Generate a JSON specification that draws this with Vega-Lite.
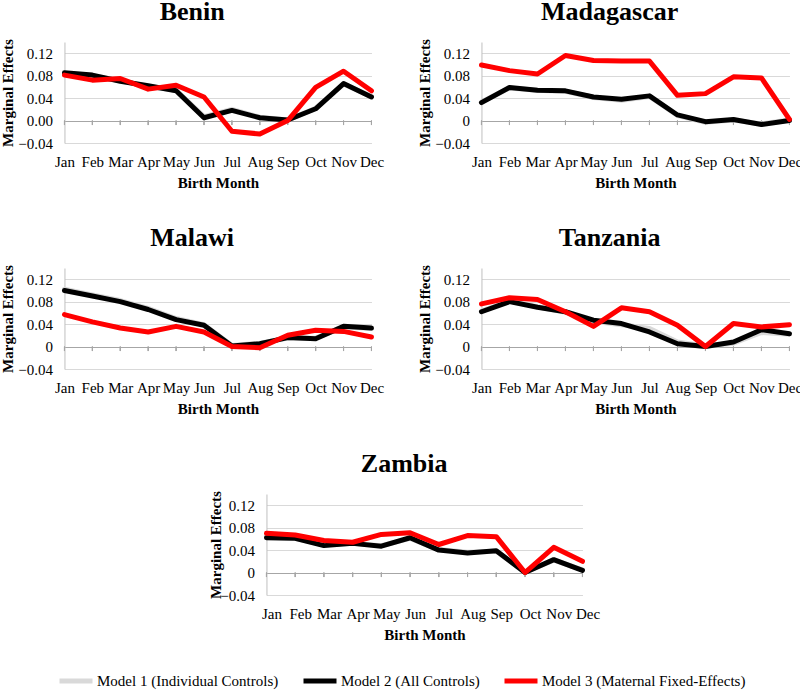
{
  "$schema": "https://vega.github.io/schema/vega-lite/v6.json",
  "padding": {"left": 0, "top": -2, "right": 5, "bottom": 5},
  "background": "white",
  "data": {"values": [
    {"country":"Benin","month":"Jan","model":"Model 1 (Individual Controls)","value":0.084},
    {"country":"Benin","month":"Feb","model":"Model 1 (Individual Controls)","value":0.080},
    {"country":"Benin","month":"Mar","model":"Model 1 (Individual Controls)","value":0.071},
    {"country":"Benin","month":"Apr","model":"Model 1 (Individual Controls)","value":0.061},
    {"country":"Benin","month":"May","model":"Model 1 (Individual Controls)","value":0.054},
    {"country":"Benin","month":"Jun","model":"Model 1 (Individual Controls)","value":0.007},
    {"country":"Benin","month":"Jul","model":"Model 1 (Individual Controls)","value":0.020},
    {"country":"Benin","month":"Aug","model":"Model 1 (Individual Controls)","value":0.006},
    {"country":"Benin","month":"Sep","model":"Model 1 (Individual Controls)","value":0.001},
    {"country":"Benin","month":"Oct","model":"Model 1 (Individual Controls)","value":0.022},
    {"country":"Benin","month":"Nov","model":"Model 1 (Individual Controls)","value":0.065},
    {"country":"Benin","month":"Dec","model":"Model 1 (Individual Controls)","value":0.043},
    {"country":"Benin","month":"Jan","model":"Model 2 (All Controls)","value":0.085},
    {"country":"Benin","month":"Feb","model":"Model 2 (All Controls)","value":0.081},
    {"country":"Benin","month":"Mar","model":"Model 2 (All Controls)","value":0.070},
    {"country":"Benin","month":"Apr","model":"Model 2 (All Controls)","value":0.062},
    {"country":"Benin","month":"May","model":"Model 2 (All Controls)","value":0.053},
    {"country":"Benin","month":"Jun","model":"Model 2 (All Controls)","value":0.005},
    {"country":"Benin","month":"Jul","model":"Model 2 (All Controls)","value":0.018},
    {"country":"Benin","month":"Aug","model":"Model 2 (All Controls)","value":0.005},
    {"country":"Benin","month":"Sep","model":"Model 2 (All Controls)","value":0.001},
    {"country":"Benin","month":"Oct","model":"Model 2 (All Controls)","value":0.021},
    {"country":"Benin","month":"Nov","model":"Model 2 (All Controls)","value":0.066},
    {"country":"Benin","month":"Dec","model":"Model 2 (All Controls)","value":0.042},
    {"country":"Benin","month":"Jan","model":"Model 3 (Maternal Fixed-Effects)","value":0.081},
    {"country":"Benin","month":"Feb","model":"Model 3 (Maternal Fixed-Effects)","value":0.072},
    {"country":"Benin","month":"Mar","model":"Model 3 (Maternal Fixed-Effects)","value":0.075},
    {"country":"Benin","month":"Apr","model":"Model 3 (Maternal Fixed-Effects)","value":0.056},
    {"country":"Benin","month":"May","model":"Model 3 (Maternal Fixed-Effects)","value":0.063},
    {"country":"Benin","month":"Jun","model":"Model 3 (Maternal Fixed-Effects)","value":0.042},
    {"country":"Benin","month":"Jul","model":"Model 3 (Maternal Fixed-Effects)","value":-0.019},
    {"country":"Benin","month":"Aug","model":"Model 3 (Maternal Fixed-Effects)","value":-0.024},
    {"country":"Benin","month":"Sep","model":"Model 3 (Maternal Fixed-Effects)","value":0.000},
    {"country":"Benin","month":"Oct","model":"Model 3 (Maternal Fixed-Effects)","value":0.059},
    {"country":"Benin","month":"Nov","model":"Model 3 (Maternal Fixed-Effects)","value":0.088},
    {"country":"Benin","month":"Dec","model":"Model 3 (Maternal Fixed-Effects)","value":0.053},

    {"country":"Madagascar","month":"Jan","model":"Model 1 (Individual Controls)","value":0.033},
    {"country":"Madagascar","month":"Feb","model":"Model 1 (Individual Controls)","value":0.058},
    {"country":"Madagascar","month":"Mar","model":"Model 1 (Individual Controls)","value":0.054},
    {"country":"Madagascar","month":"Apr","model":"Model 1 (Individual Controls)","value":0.052},
    {"country":"Madagascar","month":"May","model":"Model 1 (Individual Controls)","value":0.041},
    {"country":"Madagascar","month":"Jun","model":"Model 1 (Individual Controls)","value":0.036},
    {"country":"Madagascar","month":"Jul","model":"Model 1 (Individual Controls)","value":0.043},
    {"country":"Madagascar","month":"Aug","model":"Model 1 (Individual Controls)","value":0.009},
    {"country":"Madagascar","month":"Sep","model":"Model 1 (Individual Controls)","value":-0.003},
    {"country":"Madagascar","month":"Oct","model":"Model 1 (Individual Controls)","value":0.001},
    {"country":"Madagascar","month":"Nov","model":"Model 1 (Individual Controls)","value":-0.006},
    {"country":"Madagascar","month":"Dec","model":"Model 1 (Individual Controls)","value":0.001},
    {"country":"Madagascar","month":"Jan","model":"Model 2 (All Controls)","value":0.032},
    {"country":"Madagascar","month":"Feb","model":"Model 2 (All Controls)","value":0.059},
    {"country":"Madagascar","month":"Mar","model":"Model 2 (All Controls)","value":0.054},
    {"country":"Madagascar","month":"Apr","model":"Model 2 (All Controls)","value":0.053},
    {"country":"Madagascar","month":"May","model":"Model 2 (All Controls)","value":0.042},
    {"country":"Madagascar","month":"Jun","model":"Model 2 (All Controls)","value":0.038},
    {"country":"Madagascar","month":"Jul","model":"Model 2 (All Controls)","value":0.044},
    {"country":"Madagascar","month":"Aug","model":"Model 2 (All Controls)","value":0.010},
    {"country":"Madagascar","month":"Sep","model":"Model 2 (All Controls)","value":-0.002},
    {"country":"Madagascar","month":"Oct","model":"Model 2 (All Controls)","value":0.002},
    {"country":"Madagascar","month":"Nov","model":"Model 2 (All Controls)","value":-0.007},
    {"country":"Madagascar","month":"Dec","model":"Model 2 (All Controls)","value":0.000},
    {"country":"Madagascar","month":"Jan","model":"Model 3 (Maternal Fixed-Effects)","value":0.099},
    {"country":"Madagascar","month":"Feb","model":"Model 3 (Maternal Fixed-Effects)","value":0.089},
    {"country":"Madagascar","month":"Mar","model":"Model 3 (Maternal Fixed-Effects)","value":0.083},
    {"country":"Madagascar","month":"Apr","model":"Model 3 (Maternal Fixed-Effects)","value":0.116},
    {"country":"Madagascar","month":"May","model":"Model 3 (Maternal Fixed-Effects)","value":0.107},
    {"country":"Madagascar","month":"Jun","model":"Model 3 (Maternal Fixed-Effects)","value":0.106},
    {"country":"Madagascar","month":"Jul","model":"Model 3 (Maternal Fixed-Effects)","value":0.106},
    {"country":"Madagascar","month":"Aug","model":"Model 3 (Maternal Fixed-Effects)","value":0.045},
    {"country":"Madagascar","month":"Sep","model":"Model 3 (Maternal Fixed-Effects)","value":0.048},
    {"country":"Madagascar","month":"Oct","model":"Model 3 (Maternal Fixed-Effects)","value":0.078},
    {"country":"Madagascar","month":"Nov","model":"Model 3 (Maternal Fixed-Effects)","value":0.076},
    {"country":"Madagascar","month":"Dec","model":"Model 3 (Maternal Fixed-Effects)","value":0.002},

    {"country":"Malawi","month":"Jan","model":"Model 1 (Individual Controls)","value":0.102},
    {"country":"Malawi","month":"Feb","model":"Model 1 (Individual Controls)","value":0.092},
    {"country":"Malawi","month":"Mar","model":"Model 1 (Individual Controls)","value":0.082},
    {"country":"Malawi","month":"Apr","model":"Model 1 (Individual Controls)","value":0.068},
    {"country":"Malawi","month":"May","model":"Model 1 (Individual Controls)","value":0.050},
    {"country":"Malawi","month":"Jun","model":"Model 1 (Individual Controls)","value":0.039},
    {"country":"Malawi","month":"Jul","model":"Model 1 (Individual Controls)","value":0.002},
    {"country":"Malawi","month":"Aug","model":"Model 1 (Individual Controls)","value":0.006},
    {"country":"Malawi","month":"Sep","model":"Model 1 (Individual Controls)","value":0.015},
    {"country":"Malawi","month":"Oct","model":"Model 1 (Individual Controls)","value":0.015},
    {"country":"Malawi","month":"Nov","model":"Model 1 (Individual Controls)","value":0.035},
    {"country":"Malawi","month":"Dec","model":"Model 1 (Individual Controls)","value":0.032},
    {"country":"Malawi","month":"Jan","model":"Model 2 (All Controls)","value":0.100},
    {"country":"Malawi","month":"Feb","model":"Model 2 (All Controls)","value":0.090},
    {"country":"Malawi","month":"Mar","model":"Model 2 (All Controls)","value":0.080},
    {"country":"Malawi","month":"Apr","model":"Model 2 (All Controls)","value":0.066},
    {"country":"Malawi","month":"May","model":"Model 2 (All Controls)","value":0.048},
    {"country":"Malawi","month":"Jun","model":"Model 2 (All Controls)","value":0.038},
    {"country":"Malawi","month":"Jul","model":"Model 2 (All Controls)","value":0.001},
    {"country":"Malawi","month":"Aug","model":"Model 2 (All Controls)","value":0.005},
    {"country":"Malawi","month":"Sep","model":"Model 2 (All Controls)","value":0.016},
    {"country":"Malawi","month":"Oct","model":"Model 2 (All Controls)","value":0.014},
    {"country":"Malawi","month":"Nov","model":"Model 2 (All Controls)","value":0.036},
    {"country":"Malawi","month":"Dec","model":"Model 2 (All Controls)","value":0.033},
    {"country":"Malawi","month":"Jan","model":"Model 3 (Maternal Fixed-Effects)","value":0.057},
    {"country":"Malawi","month":"Feb","model":"Model 3 (Maternal Fixed-Effects)","value":0.044},
    {"country":"Malawi","month":"Mar","model":"Model 3 (Maternal Fixed-Effects)","value":0.033},
    {"country":"Malawi","month":"Apr","model":"Model 3 (Maternal Fixed-Effects)","value":0.026},
    {"country":"Malawi","month":"May","model":"Model 3 (Maternal Fixed-Effects)","value":0.036},
    {"country":"Malawi","month":"Jun","model":"Model 3 (Maternal Fixed-Effects)","value":0.026},
    {"country":"Malawi","month":"Jul","model":"Model 3 (Maternal Fixed-Effects)","value":0.000},
    {"country":"Malawi","month":"Aug","model":"Model 3 (Maternal Fixed-Effects)","value":-0.002},
    {"country":"Malawi","month":"Sep","model":"Model 3 (Maternal Fixed-Effects)","value":0.020},
    {"country":"Malawi","month":"Oct","model":"Model 3 (Maternal Fixed-Effects)","value":0.029},
    {"country":"Malawi","month":"Nov","model":"Model 3 (Maternal Fixed-Effects)","value":0.027},
    {"country":"Malawi","month":"Dec","model":"Model 3 (Maternal Fixed-Effects)","value":0.017},

    {"country":"Tanzania","month":"Jan","model":"Model 1 (Individual Controls)","value":0.063},
    {"country":"Tanzania","month":"Feb","model":"Model 1 (Individual Controls)","value":0.081},
    {"country":"Tanzania","month":"Mar","model":"Model 1 (Individual Controls)","value":0.071},
    {"country":"Tanzania","month":"Apr","model":"Model 1 (Individual Controls)","value":0.061},
    {"country":"Tanzania","month":"May","model":"Model 1 (Individual Controls)","value":0.045},
    {"country":"Tanzania","month":"Jun","model":"Model 1 (Individual Controls)","value":0.039},
    {"country":"Tanzania","month":"Jul","model":"Model 1 (Individual Controls)","value":0.032},
    {"country":"Tanzania","month":"Aug","model":"Model 1 (Individual Controls)","value":0.008},
    {"country":"Tanzania","month":"Sep","model":"Model 1 (Individual Controls)","value":0.001},
    {"country":"Tanzania","month":"Oct","model":"Model 1 (Individual Controls)","value":0.006},
    {"country":"Tanzania","month":"Nov","model":"Model 1 (Individual Controls)","value":0.025},
    {"country":"Tanzania","month":"Dec","model":"Model 1 (Individual Controls)","value":0.022},
    {"country":"Tanzania","month":"Jan","model":"Model 2 (All Controls)","value":0.062},
    {"country":"Tanzania","month":"Feb","model":"Model 2 (All Controls)","value":0.080},
    {"country":"Tanzania","month":"Mar","model":"Model 2 (All Controls)","value":0.070},
    {"country":"Tanzania","month":"Apr","model":"Model 2 (All Controls)","value":0.062},
    {"country":"Tanzania","month":"May","model":"Model 2 (All Controls)","value":0.047},
    {"country":"Tanzania","month":"Jun","model":"Model 2 (All Controls)","value":0.041},
    {"country":"Tanzania","month":"Jul","model":"Model 2 (All Controls)","value":0.026},
    {"country":"Tanzania","month":"Aug","model":"Model 2 (All Controls)","value":0.005},
    {"country":"Tanzania","month":"Sep","model":"Model 2 (All Controls)","value":0.000},
    {"country":"Tanzania","month":"Oct","model":"Model 2 (All Controls)","value":0.008},
    {"country":"Tanzania","month":"Nov","model":"Model 2 (All Controls)","value":0.030},
    {"country":"Tanzania","month":"Dec","model":"Model 2 (All Controls)","value":0.023},
    {"country":"Tanzania","month":"Jan","model":"Model 3 (Maternal Fixed-Effects)","value":0.076},
    {"country":"Tanzania","month":"Feb","model":"Model 3 (Maternal Fixed-Effects)","value":0.087},
    {"country":"Tanzania","month":"Mar","model":"Model 3 (Maternal Fixed-Effects)","value":0.084},
    {"country":"Tanzania","month":"Apr","model":"Model 3 (Maternal Fixed-Effects)","value":0.062},
    {"country":"Tanzania","month":"May","model":"Model 3 (Maternal Fixed-Effects)","value":0.036},
    {"country":"Tanzania","month":"Jun","model":"Model 3 (Maternal Fixed-Effects)","value":0.069},
    {"country":"Tanzania","month":"Jul","model":"Model 3 (Maternal Fixed-Effects)","value":0.062},
    {"country":"Tanzania","month":"Aug","model":"Model 3 (Maternal Fixed-Effects)","value":0.038},
    {"country":"Tanzania","month":"Sep","model":"Model 3 (Maternal Fixed-Effects)","value":0.000},
    {"country":"Tanzania","month":"Oct","model":"Model 3 (Maternal Fixed-Effects)","value":0.041},
    {"country":"Tanzania","month":"Nov","model":"Model 3 (Maternal Fixed-Effects)","value":0.035},
    {"country":"Tanzania","month":"Dec","model":"Model 3 (Maternal Fixed-Effects)","value":0.039},

    {"country":"Zambia","month":"Jan","model":"Model 1 (Individual Controls)","value":0.063},
    {"country":"Zambia","month":"Feb","model":"Model 1 (Individual Controls)","value":0.061},
    {"country":"Zambia","month":"Mar","model":"Model 1 (Individual Controls)","value":0.049},
    {"country":"Zambia","month":"Apr","model":"Model 1 (Individual Controls)","value":0.052},
    {"country":"Zambia","month":"May","model":"Model 1 (Individual Controls)","value":0.048},
    {"country":"Zambia","month":"Jun","model":"Model 1 (Individual Controls)","value":0.061},
    {"country":"Zambia","month":"Jul","model":"Model 1 (Individual Controls)","value":0.041},
    {"country":"Zambia","month":"Aug","model":"Model 1 (Individual Controls)","value":0.036},
    {"country":"Zambia","month":"Sep","model":"Model 1 (Individual Controls)","value":0.038},
    {"country":"Zambia","month":"Oct","model":"Model 1 (Individual Controls)","value":0.001},
    {"country":"Zambia","month":"Nov","model":"Model 1 (Individual Controls)","value":0.022},
    {"country":"Zambia","month":"Dec","model":"Model 1 (Individual Controls)","value":0.005},
    {"country":"Zambia","month":"Jan","model":"Model 2 (All Controls)","value":0.062},
    {"country":"Zambia","month":"Feb","model":"Model 2 (All Controls)","value":0.061},
    {"country":"Zambia","month":"Mar","model":"Model 2 (All Controls)","value":0.048},
    {"country":"Zambia","month":"Apr","model":"Model 2 (All Controls)","value":0.052},
    {"country":"Zambia","month":"May","model":"Model 2 (All Controls)","value":0.047},
    {"country":"Zambia","month":"Jun","model":"Model 2 (All Controls)","value":0.062},
    {"country":"Zambia","month":"Jul","model":"Model 2 (All Controls)","value":0.040},
    {"country":"Zambia","month":"Aug","model":"Model 2 (All Controls)","value":0.035},
    {"country":"Zambia","month":"Sep","model":"Model 2 (All Controls)","value":0.039},
    {"country":"Zambia","month":"Oct","model":"Model 2 (All Controls)","value":0.000},
    {"country":"Zambia","month":"Nov","model":"Model 2 (All Controls)","value":0.023},
    {"country":"Zambia","month":"Dec","model":"Model 2 (All Controls)","value":0.004},
    {"country":"Zambia","month":"Jan","model":"Model 3 (Maternal Fixed-Effects)","value":0.070},
    {"country":"Zambia","month":"Feb","model":"Model 3 (Maternal Fixed-Effects)","value":0.067},
    {"country":"Zambia","month":"Mar","model":"Model 3 (Maternal Fixed-Effects)","value":0.057},
    {"country":"Zambia","month":"Apr","model":"Model 3 (Maternal Fixed-Effects)","value":0.054},
    {"country":"Zambia","month":"May","model":"Model 3 (Maternal Fixed-Effects)","value":0.068},
    {"country":"Zambia","month":"Jun","model":"Model 3 (Maternal Fixed-Effects)","value":0.071},
    {"country":"Zambia","month":"Jul","model":"Model 3 (Maternal Fixed-Effects)","value":0.050},
    {"country":"Zambia","month":"Aug","model":"Model 3 (Maternal Fixed-Effects)","value":0.066},
    {"country":"Zambia","month":"Sep","model":"Model 3 (Maternal Fixed-Effects)","value":0.064},
    {"country":"Zambia","month":"Oct","model":"Model 3 (Maternal Fixed-Effects)","value":0.000},
    {"country":"Zambia","month":"Nov","model":"Model 3 (Maternal Fixed-Effects)","value":0.045},
    {"country":"Zambia","month":"Dec","model":"Model 3 (Maternal Fixed-Effects)","value":0.020}
  ]},
  "vconcat": [
    {
      "bounds": "flush",
      "spacing": 110,
      "hconcat": [
        {
          "title": "Benin",
          "width": 307, "height": 101,
          "transform": [{"filter": "datum.country == 'Benin'"}],
          "layer": [
            {"mark": {"type": "rule", "color": "#a6a6a6"},
             "encoding": {
               "x": {"field": "month", "type": "ordinal", "sort": ["Jan","Feb","Mar","Apr","May","Jun","Jul","Aug","Sep","Oct","Nov","Dec"], "title": "Birth Month"},
               "y": {"datum": 0, "title": "Marginal Effects"},
               "y2": {"datum": -0.008}}},
            {"mark": {"type": "line", "strokeWidth": 5, "strokeJoin": "round", "strokeCap": "round"},
             "encoding": {
               "x": {"field": "month", "type": "ordinal", "sort": ["Jan","Feb","Mar","Apr","May","Jun","Jul","Aug","Sep","Oct","Nov","Dec"], "title": "Birth Month", "scale": {"type": "point", "padding": 0}, "axis": {"labelOverlap": false}},
               "y": {"field": "value", "type": "quantitative", "title": "Marginal Effects", "scale": {"domain": [-0.04, 0.14], "nice": false, "zero": false}, "axis": {"values": [-0.04, 0, 0.04, 0.08, 0.12], "tickCount": 10, "format": ".2f", "labelOverlap": false}},
               "color": {"field": "model", "type": "nominal"}}}
          ]
        },
        {
          "title": "Madagascar",
          "width": 308, "height": 101,
          "transform": [{"filter": "datum.country == 'Madagascar'"}],
          "layer": [
            {"mark": {"type": "rule", "color": "#a6a6a6"},
             "encoding": {
               "x": {"field": "month", "type": "ordinal", "sort": ["Jan","Feb","Mar","Apr","May","Jun","Jul","Aug","Sep","Oct","Nov","Dec"], "title": "Birth Month"},
               "y": {"datum": 0, "title": "Marginal Effects"},
               "y2": {"datum": -0.008}}},
            {"mark": {"type": "line", "strokeWidth": 5, "strokeJoin": "round", "strokeCap": "round"},
             "encoding": {
               "x": {"field": "month", "type": "ordinal", "sort": ["Jan","Feb","Mar","Apr","May","Jun","Jul","Aug","Sep","Oct","Nov","Dec"], "title": "Birth Month", "scale": {"type": "point", "padding": 0}, "axis": {"labelOverlap": false}},
               "y": {"field": "value", "type": "quantitative", "title": "Marginal Effects", "scale": {"domain": [-0.04, 0.14], "nice": false, "zero": false}, "axis": {"values": [-0.04, 0, 0.04, 0.08, 0.12], "tickCount": 10, "labelExpr": "datum.value == 0 ? '0' : format(datum.value, '.2f')", "labelOverlap": false}},
               "color": {"field": "model", "type": "nominal"}}}
          ]
        }
      ]
    },
    {
      "bounds": "flush",
      "spacing": 110,
      "hconcat": [
        {
          "title": "Malawi",
          "width": 307, "height": 101,
          "transform": [{"filter": "datum.country == 'Malawi'"}],
          "layer": [
            {"mark": {"type": "rule", "color": "#a6a6a6"},
             "encoding": {
               "x": {"field": "month", "type": "ordinal", "sort": ["Jan","Feb","Mar","Apr","May","Jun","Jul","Aug","Sep","Oct","Nov","Dec"], "title": "Birth Month"},
               "y": {"datum": 0, "title": "Marginal Effects"},
               "y2": {"datum": -0.008}}},
            {"mark": {"type": "line", "strokeWidth": 5, "strokeJoin": "round", "strokeCap": "round"},
             "encoding": {
               "x": {"field": "month", "type": "ordinal", "sort": ["Jan","Feb","Mar","Apr","May","Jun","Jul","Aug","Sep","Oct","Nov","Dec"], "title": "Birth Month", "scale": {"type": "point", "padding": 0}, "axis": {"labelOverlap": false}},
               "y": {"field": "value", "type": "quantitative", "title": "Marginal Effects", "scale": {"domain": [-0.04, 0.14], "nice": false, "zero": false}, "axis": {"values": [-0.04, 0, 0.04, 0.08, 0.12], "tickCount": 10, "labelExpr": "datum.value == 0 ? '0' : format(datum.value, '.2f')", "labelOverlap": false}},
               "color": {"field": "model", "type": "nominal"}}}
          ]
        },
        {
          "title": "Tanzania",
          "width": 308, "height": 101,
          "transform": [{"filter": "datum.country == 'Tanzania'"}],
          "layer": [
            {"mark": {"type": "rule", "color": "#a6a6a6"},
             "encoding": {
               "x": {"field": "month", "type": "ordinal", "sort": ["Jan","Feb","Mar","Apr","May","Jun","Jul","Aug","Sep","Oct","Nov","Dec"], "title": "Birth Month"},
               "y": {"datum": 0, "title": "Marginal Effects"},
               "y2": {"datum": -0.008}}},
            {"mark": {"type": "line", "strokeWidth": 5, "strokeJoin": "round", "strokeCap": "round"},
             "encoding": {
               "x": {"field": "month", "type": "ordinal", "sort": ["Jan","Feb","Mar","Apr","May","Jun","Jul","Aug","Sep","Oct","Nov","Dec"], "title": "Birth Month", "scale": {"type": "point", "padding": 0}, "axis": {"labelOverlap": false}},
               "y": {"field": "value", "type": "quantitative", "title": "Marginal Effects", "scale": {"domain": [-0.04, 0.14], "nice": false, "zero": false}, "axis": {"values": [-0.04, 0, 0.04, 0.08, 0.12], "tickCount": 10, "labelExpr": "datum.value == 0 ? '0' : format(datum.value, '.2f')", "labelOverlap": false}},
               "color": {"field": "model", "type": "nominal"}}}
          ]
        }
      ]
    },
    {
      "title": "Zambia",
      "width": 316, "height": 101,
      "transform": [{"filter": "datum.country == 'Zambia'"}],
      "layer": [
        {"mark": {"type": "rule", "color": "#a6a6a6"},
         "encoding": {
           "x": {"field": "month", "type": "ordinal", "sort": ["Jan","Feb","Mar","Apr","May","Jun","Jul","Aug","Sep","Oct","Nov","Dec"], "title": "Birth Month"},
           "y": {"datum": 0, "title": "Marginal Effects"},
           "y2": {"datum": -0.008}}},
        {"mark": {"type": "line", "strokeWidth": 5, "strokeJoin": "round", "strokeCap": "round"},
         "encoding": {
           "x": {"field": "month", "type": "ordinal", "sort": ["Jan","Feb","Mar","Apr","May","Jun","Jul","Aug","Sep","Oct","Nov","Dec"], "title": "Birth Month", "scale": {"type": "point", "padding": 0}, "axis": {"labelOverlap": false, "labelOffset": 5}},
           "y": {"field": "value", "type": "quantitative", "title": "Marginal Effects", "scale": {"domain": [-0.04, 0.14], "nice": false, "zero": false}, "axis": {"values": [-0.04, 0, 0.04, 0.08, 0.12], "tickCount": 10, "labelExpr": "datum.value == 0 ? '0' : format(datum.value, '.2f')", "labelOverlap": false, "titlePadding": -4}},
           "color": {"field": "model", "type": "nominal"}}}
      ]
    }
  ],
  "spacing": 34,
  "center": true,
  "resolve": {"scale": {"color": "shared"}},
  "config": {
    "view": {"stroke": null},
    "font": "Liberation Serif",
    "title": {"font": "Liberation Serif", "fontSize": 26, "fontWeight": "bold", "anchor": "middle", "frame": "bounds", "offset": 14, "color": "black"},
    "axis": {"labelFont": "Liberation Serif", "labelFontSize": 15, "labelColor": "black", "titleFont": "Liberation Serif", "titleFontSize": 15, "titleFontWeight": "bold", "titleColor": "black", "labelOverlap": false, "labelFlush": false},
    "axisX": {"domain": false, "ticks": false, "grid": false, "labelAngle": 0, "labelPadding": 11, "titlePadding": 6},
    "axisY": {"domain": true, "domainColor": "#bfbfbf", "ticks": false, "grid": true, "gridColor": {"condition": {"test": "datum.value === 0", "value": "#a6a6a6"}, "value": "#d9d9d9"}, "labelPadding": 12, "titlePadding": 2},
    "range": {"category": ["#d9d9d9", "#000000", "#ff0000"]},
    "legend": {"orient": "bottom", "direction": "horizontal", "title": null, "symbolType": "stroke", "symbolStrokeWidth": 5, "symbolSize": 1089, "labelFont": "Liberation Serif", "labelFontSize": 15, "labelColor": "black", "labelLimit": 400, "columnPadding": 14, "labelOffset": 2, "offset": 20, "layout": {"bottom": {"anchor": "middle"}}}
  }
}
